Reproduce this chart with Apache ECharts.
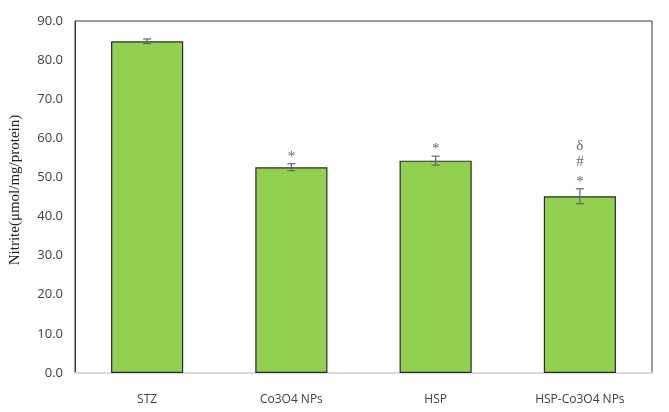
<!DOCTYPE html>
<html>
<head>
<meta charset="utf-8">
<script src="https://cdn.jsdelivr.net/npm/echarts@6/dist/echarts.min.js"></script>
<style>
  html, body { margin: 0; padding: 0; background: #fff; }
  #chart { width: 669px; height: 412px; }
</style>
</head>
<body>
<div id="chart"></div>
<script>
// data
const categories = ['STZ', 'Co3O4 NPs', 'HSP', 'HSP-Co3O4 NPs'];
const values = [84.8, 52.6, 54.3, 45.2];
const errors = [0.6, 0.9, 1.15, 1.9];
// significance marks, bottom to top
const marks = [[], ['*'], ['*'], ['*', '#', 'δ']];

const chart = echarts.init(document.getElementById('chart'));

const option = {
  animation: false,
  grid: {
    left: 74, right: 17, top: 21, bottom: 39,
    show: true, borderColor: '#3a3a3a', borderWidth: 1
  },
  xAxis: {
    type: 'category',
    data: categories,
    axisLine: { lineStyle: { color: '#d9d9d9', width: 2 } },
    axisTick: { show: false },
    axisLabel: { color: '#404040', fontSize: 12, fontFamily: 'Open Sans', margin: 21 }
  },
  yAxis: {
    type: 'value',
    min: 0, max: 90, interval: 10,
    name: 'Nitrite(μmol/mg/protein)',
    nameLocation: 'middle',
    nameGap: 52,
    nameTextStyle: {
      fontFamily: 'Liberation Serif', fontSize: 15, color: '#222',
      padding: [0, 0, 0, 14]
    },
    axisLine: { show: true, lineStyle: { color: '#3a3a3a' } },
    axisTick: { show: false },
    splitLine: { show: false },
    axisLabel: {
      color: '#404040', fontSize: 13, fontFamily: 'Open Sans', margin: 12,
      formatter: v => v.toFixed(1)
    }
  },
  series: [
    {
      type: 'bar',
      data: values,
      barWidth: '50%',
      itemStyle: { color: '#92d050', borderColor: '#2b2b2b', borderWidth: 1.2 }
    },
    {
      type: 'custom',
      data: values.map((v, i) => [i, v - errors[i], v + errors[i]]),
      renderItem: function (params, api) {
        const i = api.value(0);
        const lo = api.coord([i, api.value(1)]);
        const hi = api.coord([i, api.value(2)]);
        const w = 4;
        const st = { stroke: '#666', lineWidth: 1.2 };
        const children = [
          { type: 'line', shape: { x1: hi[0], y1: hi[1], x2: lo[0], y2: lo[1] }, style: st },
          { type: 'line', shape: { x1: hi[0] - w, y1: hi[1], x2: hi[0] + w, y2: hi[1] }, style: st },
          { type: 'line', shape: { x1: lo[0] - w, y1: lo[1], x2: lo[0] + w, y2: lo[1] }, style: st }
        ];
        marks[i].forEach((m, k) => {
          children.push({
            type: 'text',
            style: {
              text: m, x: hi[0], y: hi[1] - 11 - k * 16 + (m === '*' ? 4 : 0),
              align: 'center', verticalAlign: 'middle',
              fill: '#666', fontSize: 15, fontFamily: 'Liberation Serif'
            }
          });
        });
        return { type: 'group', children: children };
      },
      z: 5
    }
  ]
};

chart.setOption(option);
</script>
</body>
</html>
